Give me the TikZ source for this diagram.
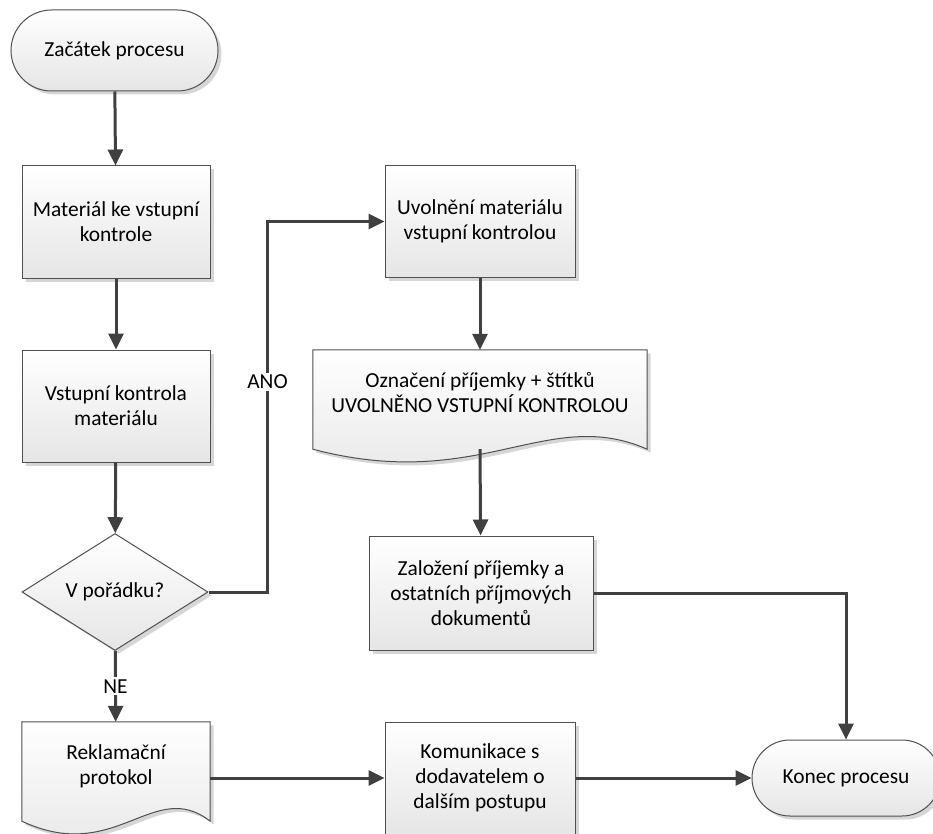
\documentclass[tikz,border=0pt]{standalone}
\usepackage{fontspec}
\setmainfont{Carlito}
\usetikzlibrary{arrows.meta,shapes.geometric,shapes.misc,shadows,calc,backgrounds}
\definecolor{linec}{HTML}{404040}
\definecolor{edgec}{HTML}{505050}
\definecolor{shadowc}{HTML}{D6D6D6}
\tikzset{
  txt/.style={font=\fontsize{21.4}{24.8}\selectfont, align=center, text=black},
  flowfill/.style={top color=white, bottom color=black!10},
  boxshadow/.style={drop shadow={shadow xshift=3.5pt, shadow yshift=-3.5pt, fill=shadowc, opacity=1}},
  procbox/.style={txt, rectangle, draw=edgec, line width=1pt, flowfill, inner sep=0pt, boxshadow},
  term/.style={txt, rounded rectangle, draw=edgec, line width=1pt, flowfill, inner sep=0pt, boxshadow},
  decision/.style={txt, diamond, draw=edgec, line width=1pt, flowfill, inner sep=0pt, boxshadow},
  docnode/.style={txt, rectangle, inner sep=0pt},
  conn/.style={draw=linec, line width=3pt, -{Triangle[length=16pt,width=15pt]}},
  lbl/.style={txt, fill=white, inner sep=2pt},
}
% outline of a document symbol around a node (wavy lower edge)
\newcommand\docoutline[2]{%
  \path[#2] (#1.north west) -- (#1.north east) -- ($(#1.south east)+(0,-13)$)
    .. controls ($(#1.south west)!0.7!(#1.south east)+(0,-57)$)
       and ($(#1.south west)!0.5!(#1.south east)+(0,31)$) .. ($(#1.south west)+(0,-13)$)
    -- cycle;}
\newcommand\raisedtext[1]{\raisebox{11pt}[\height][\depth]{\begin{tabular}{@{}c@{}}#1\end{tabular}}}
\begin{document}
\begin{tikzpicture}[x=1pt, y=-1pt]
\useasboundingbox (0,0) rectangle (933,834);

% left column
\node[term, minimum width=207pt, minimum height=81pt] (start) at (114.5,50.5) {Začátek procesu};
\node[procbox, minimum width=188pt, minimum height=112pt] (mat) at (116,222) {Materiál ke vstupní\\kontrole};
\node[procbox, minimum width=188pt, minimum height=112pt] (vk) at (116,406) {Vstupní kontrola\\materiálu};
\node[decision, minimum width=186pt, minimum height=114pt] (ok) at (115,592) {V pořádku?};
\node[docnode, minimum width=188pt, minimum height=112pt] (rek) at (116,778) {\raisedtext{Reklamační\\protokol}};

% middle column
\node[procbox, minimum width=190pt, minimum height=111pt] (uvol) at (480,221.5) {Uvolnění materiálu\\vstupní kontrolou};
\node[docnode, minimum width=334pt, minimum height=112pt] (ozn) at (480,406) {\raisedtext{Označení příjemky + štítků\\UVOLNĚNO VSTUPNÍ KONTROLOU}};
\node[procbox, minimum width=224pt, minimum height=114pt] (zal) at (481,593) {Založení příjemky a\\ostatních příjmových\\dokumentů};
\node[procbox, minimum width=190pt, minimum height=112pt] (kom) at (480,778) {Komunikace s\\dodavatelem o\\dalším postupu};

% end
\node[term, minimum width=188pt, minimum height=76pt] (end) at (846,778) {Konec procesu};

% document symbols behind their texts
\begin{scope}[on background layer]
  \docoutline{rek}{fill=shadowc, transform canvas={shift={(3.5pt,-3.5pt)}}}
  \docoutline{rek}{draw=edgec, line width=1pt, flowfill}
  \docoutline{ozn}{fill=shadowc, transform canvas={shift={(3.5pt,-3.5pt)}}}
  \docoutline{ozn}{draw=edgec, line width=1pt, flowfill}
\end{scope}

% connectors
\draw[conn] (start) -- (mat);
\draw[conn] (mat) -- (vk);
\draw[conn] (vk) -- (ok);
\draw[conn] (ok) -- node[lbl] {NE} (rek);
\draw[conn] (ok.east) -- ++(59,0) |- node[lbl, pos=0.284] {ANO} (uvol.west);
\draw[conn] (uvol) -- (ozn);
\draw[conn] ([yshift=13pt]ozn.south) -- (zal);
\draw[conn] (zal.east) -| (end.north);
\draw[conn] (rek.east) -- (kom.west);
\draw[conn] (kom) -- (end);
\end{tikzpicture}
\end{document}
